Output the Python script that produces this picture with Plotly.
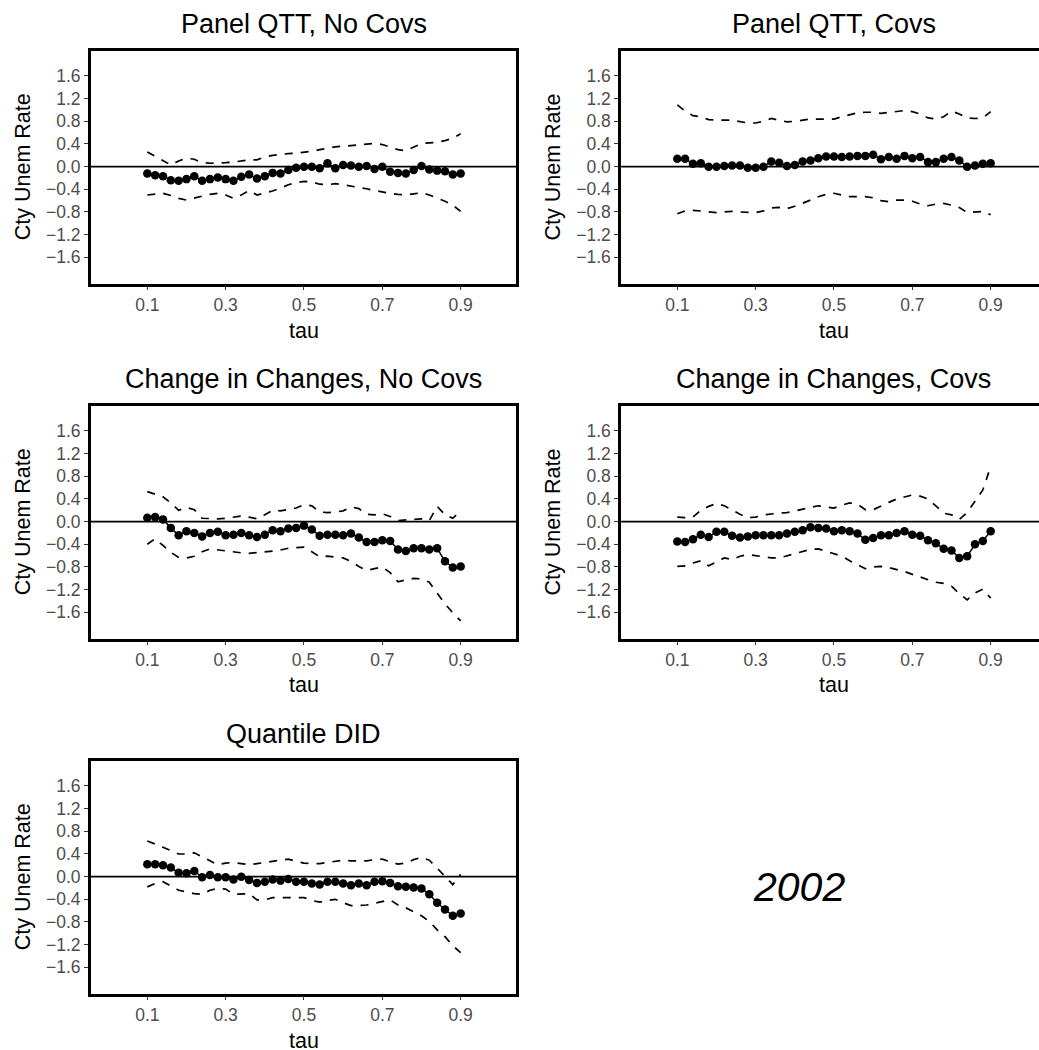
import plotly.graph_objects as go

# Quantile index
tau = [0.10, 0.12, 0.14, 0.16, 0.18, 0.20, 0.22, 0.24, 0.26, 0.28,
       0.30, 0.32, 0.34, 0.36, 0.38, 0.40, 0.42, 0.44, 0.46, 0.48,
       0.50, 0.52, 0.54, 0.56, 0.58, 0.60, 0.62, 0.64, 0.66, 0.68,
       0.70, 0.72, 0.74, 0.76, 0.78, 0.80, 0.82, 0.84, 0.86, 0.88, 0.90]

# Panel QTT, No Covs
pqtt_est = [-0.12, -0.15, -0.17, -0.24, -0.25, -0.22, -0.17, -0.25, -0.22, -0.19,
            -0.22, -0.25, -0.18, -0.14, -0.21, -0.17, -0.11, -0.12, -0.06, -0.02,
            0.00, 0.00, -0.03, 0.06, -0.03, 0.03, 0.02, 0.00, 0.01, -0.04,
            0.00, -0.09, -0.11, -0.12, -0.06, 0.01, -0.05, -0.07, -0.08, -0.14, -0.12]
pqtt_hi = [0.26, 0.18, 0.10, 0.03, 0.10, 0.15, 0.13, 0.07, 0.06, 0.06,
           0.07, 0.08, 0.10, 0.12, 0.12, 0.17, 0.20, 0.22, 0.23, 0.24,
           0.25, 0.27, 0.30, 0.33, 0.35, 0.36, 0.37, 0.39, 0.40, 0.41,
           0.39, 0.35, 0.30, 0.28, 0.35, 0.41, 0.42, 0.43, 0.46, 0.50, 0.58]
pqtt_lo = [-0.50, -0.49, -0.47, -0.51, -0.56, -0.59, -0.55, -0.52, -0.49, -0.47,
           -0.50, -0.56, -0.50, -0.42, -0.50, -0.47, -0.43, -0.38, -0.32, -0.28,
           -0.26, -0.27, -0.31, -0.32, -0.30, -0.32, -0.34, -0.36, -0.39, -0.42,
           -0.45, -0.47, -0.49, -0.50, -0.48, -0.46, -0.50, -0.55, -0.61, -0.68, -0.79]

# Panel QTT, Covs
pqttc_est = [0.14, 0.14, 0.05, 0.06, 0.00, 0.00, 0.01, 0.02, 0.02, -0.02,
             -0.02, 0.00, 0.09, 0.07, 0.01, 0.03, 0.09, 0.11, 0.15, 0.18,
             0.18, 0.17, 0.18, 0.19, 0.19, 0.21, 0.13, 0.17, 0.14, 0.19,
             0.15, 0.17, 0.08, 0.08, 0.14, 0.17, 0.11, 0.00, 0.02, 0.05, 0.06]
pqttc_hi = [1.09, 0.98, 0.90, 0.88, 0.83, 0.82, 0.82, 0.82, 0.80, 0.77,
            0.77, 0.80, 0.85, 0.82, 0.79, 0.80, 0.82, 0.84, 0.84, 0.84,
            0.84, 0.88, 0.92, 0.95, 0.96, 0.96, 0.94, 0.96, 0.98, 0.99,
            0.97, 0.93, 0.86, 0.84, 0.88, 0.98, 0.93, 0.86, 0.85, 0.86, 0.97]
pqttc_lo = [-0.83, -0.78, -0.77, -0.78, -0.80, -0.81, -0.80, -0.79, -0.80, -0.81,
            -0.81, -0.78, -0.73, -0.72, -0.74, -0.70, -0.65, -0.59, -0.53, -0.49,
            -0.47, -0.50, -0.53, -0.53, -0.53, -0.55, -0.60, -0.62, -0.59, -0.59,
            -0.61, -0.66, -0.69, -0.66, -0.65, -0.68, -0.72, -0.81, -0.80, -0.79, -0.85]

# Change in Changes, No Covs
cic_est = [0.07, 0.08, 0.04, -0.11, -0.24, -0.17, -0.20, -0.26, -0.20, -0.18,
           -0.24, -0.23, -0.20, -0.24, -0.27, -0.23, -0.15, -0.17, -0.12, -0.11,
           -0.07, -0.14, -0.25, -0.23, -0.23, -0.24, -0.21, -0.28, -0.36, -0.36,
           -0.33, -0.34, -0.49, -0.52, -0.47, -0.47, -0.49, -0.47, -0.70, -0.81, -0.79]
cic_hi = [0.53, 0.49, 0.44, 0.33, 0.20, 0.25, 0.21, 0.06, 0.05, 0.05,
          0.06, 0.08, 0.10, 0.08, 0.05, 0.12, 0.20, 0.19, 0.22, 0.24,
          0.30, 0.28, 0.17, 0.16, 0.17, 0.19, 0.26, 0.23, 0.13, 0.12,
          0.14, 0.09, 0.02, 0.03, 0.04, 0.05, 0.02, 0.27, 0.12, 0.06, 0.19]
cic_lo = [-0.40, -0.30, -0.42, -0.54, -0.63, -0.64, -0.61, -0.53, -0.48, -0.50,
          -0.52, -0.54, -0.55, -0.56, -0.55, -0.54, -0.52, -0.50, -0.47, -0.46,
          -0.45, -0.53, -0.62, -0.61, -0.62, -0.64, -0.70, -0.79, -0.86, -0.83,
          -0.80, -0.90, -1.06, -1.03, -1.00, -1.01, -1.07, -1.26, -1.45, -1.61, -1.75]

# Change in Changes, Covs
cicc_est = [-0.35, -0.36, -0.31, -0.23, -0.27, -0.18, -0.18, -0.25, -0.28, -0.26,
            -0.24, -0.24, -0.24, -0.24, -0.21, -0.18, -0.15, -0.10, -0.11, -0.12,
            -0.17, -0.15, -0.17, -0.21, -0.32, -0.29, -0.24, -0.24, -0.20, -0.17,
            -0.23, -0.25, -0.33, -0.38, -0.48, -0.51, -0.64, -0.61, -0.40, -0.34, -0.17]
cicc_hi = [0.08, 0.07, 0.08, 0.20, 0.27, 0.32, 0.28, 0.20, 0.13, 0.07,
           0.08, 0.12, 0.14, 0.15, 0.16, 0.19, 0.22, 0.26, 0.28, 0.26,
           0.24, 0.29, 0.33, 0.31, 0.21, 0.21, 0.28, 0.34, 0.40, 0.44,
           0.47, 0.45, 0.40, 0.28, 0.15, 0.12, 0.04, 0.16, 0.37, 0.56, 0.97]
cicc_lo = [-0.79, -0.78, -0.73, -0.69, -0.78, -0.71, -0.64, -0.67, -0.61, -0.58,
           -0.60, -0.61, -0.64, -0.64, -0.60, -0.56, -0.53, -0.49, -0.48, -0.52,
           -0.56, -0.61, -0.69, -0.76, -0.83, -0.80, -0.79, -0.81, -0.84, -0.88,
           -0.93, -0.98, -1.03, -1.07, -1.09, -1.14, -1.27, -1.38, -1.26, -1.19, -1.35]

# Quantile DID
qdid_est = [0.22, 0.22, 0.20, 0.16, 0.07, 0.06, 0.10, -0.01, 0.03, -0.01,
            -0.01, -0.05, 0.00, -0.06, -0.11, -0.09, -0.05, -0.07, -0.04, -0.09,
            -0.09, -0.12, -0.14, -0.09, -0.09, -0.12, -0.15, -0.12, -0.15, -0.09,
            -0.08, -0.11, -0.17, -0.18, -0.19, -0.21, -0.31, -0.46, -0.58, -0.69, -0.65]
qdid_hi = [0.63, 0.58, 0.52, 0.46, 0.40, 0.40, 0.42, 0.35, 0.28, 0.21,
           0.24, 0.25, 0.23, 0.21, 0.23, 0.25, 0.27, 0.29, 0.31, 0.27,
           0.24, 0.23, 0.23, 0.25, 0.27, 0.29, 0.28, 0.28, 0.28, 0.30,
           0.31, 0.26, 0.22, 0.24, 0.30, 0.34, 0.29, 0.15, 0.01, -0.14, 0.04]
qdid_lo = [-0.18, -0.12, -0.09, -0.16, -0.24, -0.27, -0.30, -0.31, -0.24, -0.21,
           -0.22, -0.31, -0.31, -0.30, -0.41, -0.41, -0.37, -0.37, -0.37, -0.37,
           -0.37, -0.42, -0.45, -0.42, -0.40, -0.46, -0.51, -0.51, -0.50, -0.47,
           -0.44, -0.41, -0.50, -0.55, -0.62, -0.69, -0.79, -0.94, -1.06, -1.22, -1.34]

panel_titles = ["Panel QTT, No Covs", "Panel QTT, Covs",
                "Change in Changes, No Covs", "Change in Changes, Covs",
                "Quantile DID"]
panel_data = [(pqtt_est, pqtt_hi, pqtt_lo), (pqttc_est, pqttc_hi, pqttc_lo),
              (cic_est, cic_hi, cic_lo), (cicc_est, cicc_hi, cicc_lo),
              (qdid_est, qdid_hi, qdid_lo)]
x_ticks = [0.1, 0.3, 0.5, 0.7, 0.9]
x_ticklabels = ["0.1", "0.3", "0.5", "0.7", "0.9"]
y_ticks = [-1.6, -1.2, -0.8, -0.4, 0.0, 0.4, 0.8, 1.2, 1.6]
y_ticklabels = ["\u22121.6", "\u22121.2", "\u22120.8", "\u22120.4", "0.0",
                "0.4", "0.8", "1.2", "1.6"]
y_title = "Cty Unem Rate"
x_title = "tau"
year_label = "2002"

W, H = 1039, 1050
FONT = "Liberation Sans, Arial, Helvetica, sans-serif"

# pixel geometry of the panel grid (inner plot areas)
col_left = [91.0, 621.2]
col_right = [516.0, 1039.0]
tick01_px = [147.3, 677.3]          # where tau = 0.1 sits in each column
row_top = [51.0, 406.0, 761.0]
row_bottom = [283.5, 638.5, 993.5]
zero_px = [166.65, 521.65, 876.65]  # where 0 sits in each row
px_per_tau = 391.7
px_per_unit = 56.66
BORDER = 2.8

fig = go.Figure()
annotations = []
shapes = []

for i, (title, (est, hi, lo)) in enumerate(zip(panel_titles, panel_data)):
    r, c = divmod(i, 2)
    n = i + 1
    xa = "x" if n == 1 else f"x{n}"
    ya = "y" if n == 1 else f"y{n}"
    xkey = "xaxis" if n == 1 else f"xaxis{n}"
    ykey = "yaxis" if n == 1 else f"yaxis{n}"

    x0p, x1p = col_left[c], col_right[c]
    x_lo = 0.1 - (tick01_px[c] - x0p) / px_per_tau
    x_hi = 0.1 + (x1p - tick01_px[c]) / px_per_tau
    y_hi = (zero_px[r] - row_top[r]) / px_per_unit
    y_lo = -(row_bottom[r] - zero_px[r]) / px_per_unit
    dom_x = [x0p / W, x1p / W]
    dom_y = [1 - row_bottom[r] / H, 1 - row_top[r] / H]

    for band in (hi, lo):
        fig.add_trace(go.Scatter(
            x=tau, y=band, mode="lines", xaxis=xa, yaxis=ya,
            line=dict(color="black", width=1.7, dash="8px,8px"),
            showlegend=False, hoverinfo="skip"))
    fig.add_trace(go.Scatter(
        x=tau, y=est, mode="lines+markers", xaxis=xa, yaxis=ya,
        line=dict(color="black", width=1.5),
        marker=dict(color="black", size=8.5, line=dict(width=0)),
        showlegend=False))

    fig.update_layout({
        xkey: dict(domain=dom_x, range=[x_lo, x_hi], anchor=ya,
                   tickvals=x_ticks, ticktext=x_ticklabels,
                   ticks="outside", ticklen=4, tickwidth=1.1, tickcolor="#333333",
                   tickfont=dict(family=FONT, size=17.5, color="#4d4d4d"),
                   showline=True, linecolor="black", linewidth=BORDER, mirror=True,
                   showgrid=False, zeroline=False, fixedrange=True),
        ykey: dict(domain=dom_y, range=[y_lo, y_hi], anchor=xa,
                   tickvals=y_ticks, ticktext=y_ticklabels,
                   ticks="outside", ticklen=4, tickwidth=1.1, tickcolor="#333333",
                   tickfont=dict(family=FONT, size=17.5, color="#4d4d4d"),
                   showline=True, linecolor="black", linewidth=BORDER,
                   mirror=(c == 0),
                   showgrid=False, zeroline=False, fixedrange=True),
    })

    # reference line at zero
    shapes.append(dict(type="line", xref=f"{xa} domain", yref=ya,
                       x0=0, x1=1, y0=0, y1=0,
                       line=dict(color="black", width=1.7), layer="below"))

    cx = (tick01_px[c] + 0.4 * px_per_tau) / W
    annotations.append(dict(text=title, xref="paper", yref="paper",
                            x=cx, y=1 - (row_top[r] - 27) / H,
                            xanchor="center", yanchor="middle", showarrow=False,
                            font=dict(family=FONT, size=27, color="black")))
    annotations.append(dict(text=x_title, xref="paper", yref="paper",
                            x=cx, y=1 - (row_bottom[r] + 47) / H,
                            xanchor="center", yanchor="middle", showarrow=False,
                            font=dict(family=FONT, size=21.5, color="black")))
    annotations.append(dict(text=y_title, xref="paper", yref="paper",
                            x=(x0p - 68) / W,
                            y=1 - ((row_top[r] + row_bottom[r]) / 2) / H,
                            xanchor="center", yanchor="middle", textangle=-90,
                            showarrow=False,
                            font=dict(family=FONT, size=21.5, color="black")))

annotations.append(dict(text=f"<i>{year_label}</i>", xref="paper", yref="paper",
                        x=799 / W, y=1 - 887 / H, xanchor="center", yanchor="middle",
                        showarrow=False,
                        font=dict(family=FONT, size=41, color="black")))

fig.update_layout(width=W, height=H, margin=dict(l=0, r=0, t=0, b=0),
                  paper_bgcolor="white", plot_bgcolor="white",
                  annotations=annotations, shapes=shapes, showlegend=False)

fig.write_html("out.html", config={"displayModeBar": False})
